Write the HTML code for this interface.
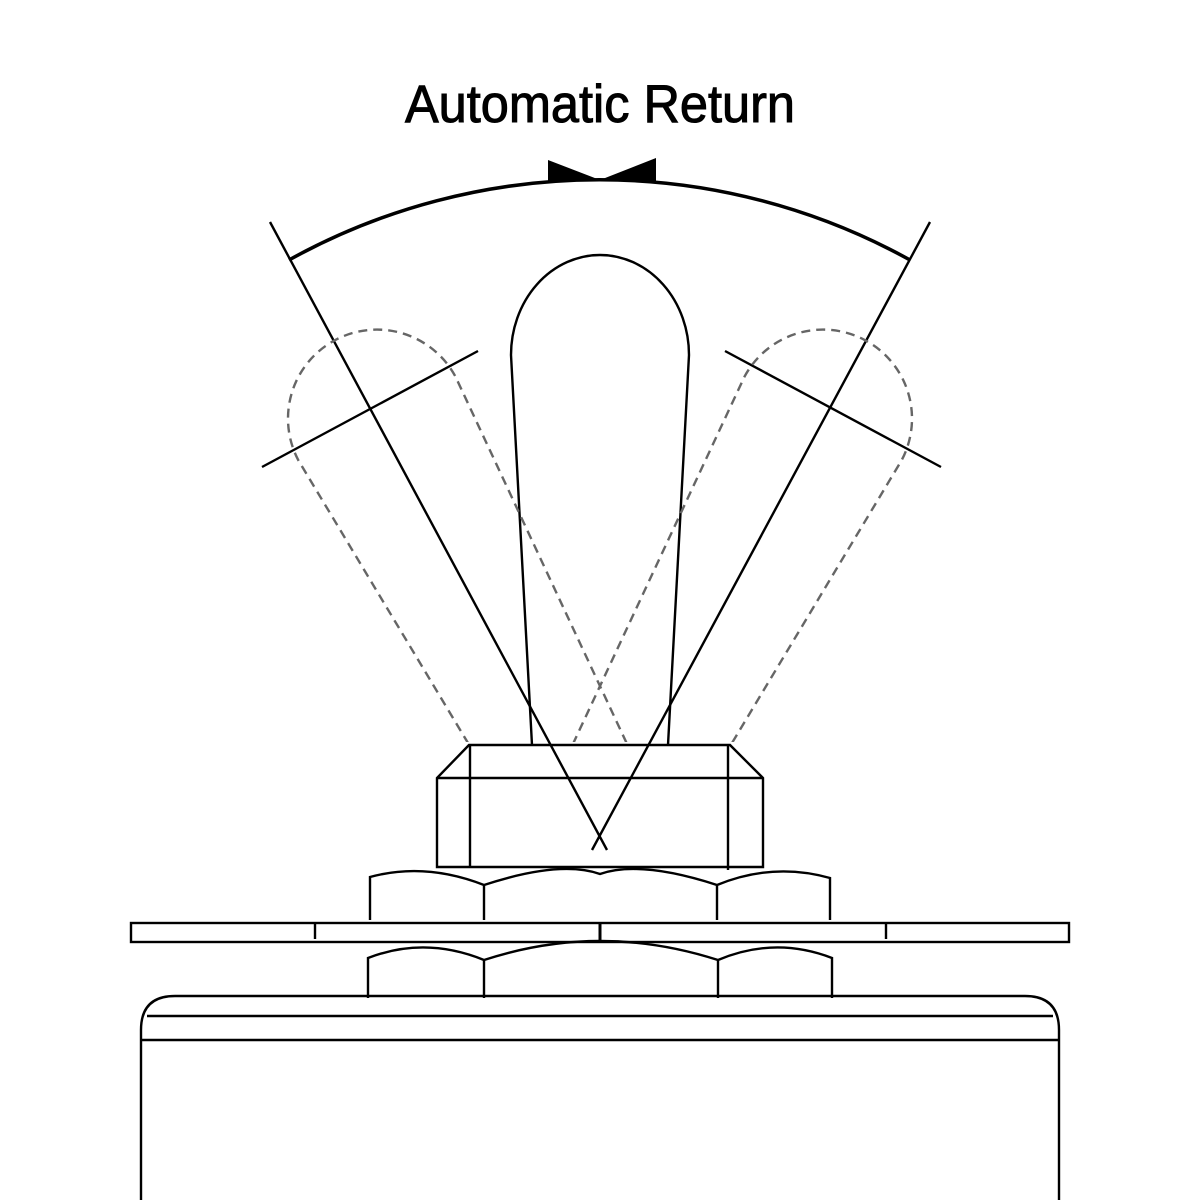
<!DOCTYPE html>
<html><head><meta charset="utf-8"><style>html,body{margin:0;padding:0;background:#fff}svg{display:block}</style></head>
<body>
<svg width="1200" height="1200" viewBox="0 0 1200 1200" xmlns="http://www.w3.org/2000/svg">
<defs><clipPath id="c"><rect x="0" y="0" width="1200" height="742"/></clipPath></defs>
<text x="600" y="122" text-anchor="middle" font-family="Liberation Sans, sans-serif" font-size="53" textLength="390" lengthAdjust="spacingAndGlyphs" fill="#000" stroke="#000" stroke-width="1">Automatic Return</text>
<g fill="none" stroke="#000" stroke-width="2.4">
<path d="M289,260 A641,641 0 0 1 910,260" stroke-width="3.5"/>
<line x1="270" y1="222" x2="607" y2="850"/>
<line x1="930" y1="222" x2="592" y2="850"/>
<line x1="262" y1="467" x2="478" y2="351"/>
<line x1="725" y1="351" x2="941" y2="467"/>
<path d="M532,745 L511,355 A89,100 0 0 1 689,355 L668,745"/>
<g clip-path="url(#c)" stroke="#666" stroke-dasharray="9,6">
<path transform="rotate(-28 600 838) translate(0 8)" d="M532,760 L511,355 A89,89 0 0 1 689,355 L668,760"/>
<path transform="rotate(28 600 838) translate(0 8)" d="M532,760 L511,355 A89,89 0 0 1 689,355 L668,760"/>
</g>
<path d="M469,745 H730 L763,778 V867 H437 V778 Z"/>
<line x1="437" y1="778" x2="763" y2="778"/>
<line x1="470" y1="745" x2="470" y2="867"/>
<line x1="728" y1="745" x2="728" y2="870"/>
<path d="M370,920 V877 Q425,862 484,885 V920 M484,885 Q560,860 600,874 Q640,860 717,885 V920 M717,885 Q773,862 830,878 V920"/>
<rect x="131" y="923" width="938" height="19"/>
<line x1="315" y1="923" x2="315" y2="939"/>
<line x1="600" y1="923" x2="600" y2="942" stroke-width="3"/>
<line x1="886" y1="923" x2="886" y2="939"/>
<path d="M368,998 V958 Q425,936 484,960 V998 M484,960 Q600,922 718,960 V998 M718,960 Q775,936 832,958 V998"/>
<path d="M141,1200 V1030 Q141,996 175,996 H1025 Q1059,996 1059,1030 V1200"/>
<line x1="147" y1="1016" x2="1053" y2="1016"/>
<line x1="141" y1="1040" x2="1059" y2="1040"/>
</g>
<path d="M548,160 L600,180 L548,181 Z M656,158 L600,180 L656,181 Z" fill="#000"/>
</svg>
</body></html>
